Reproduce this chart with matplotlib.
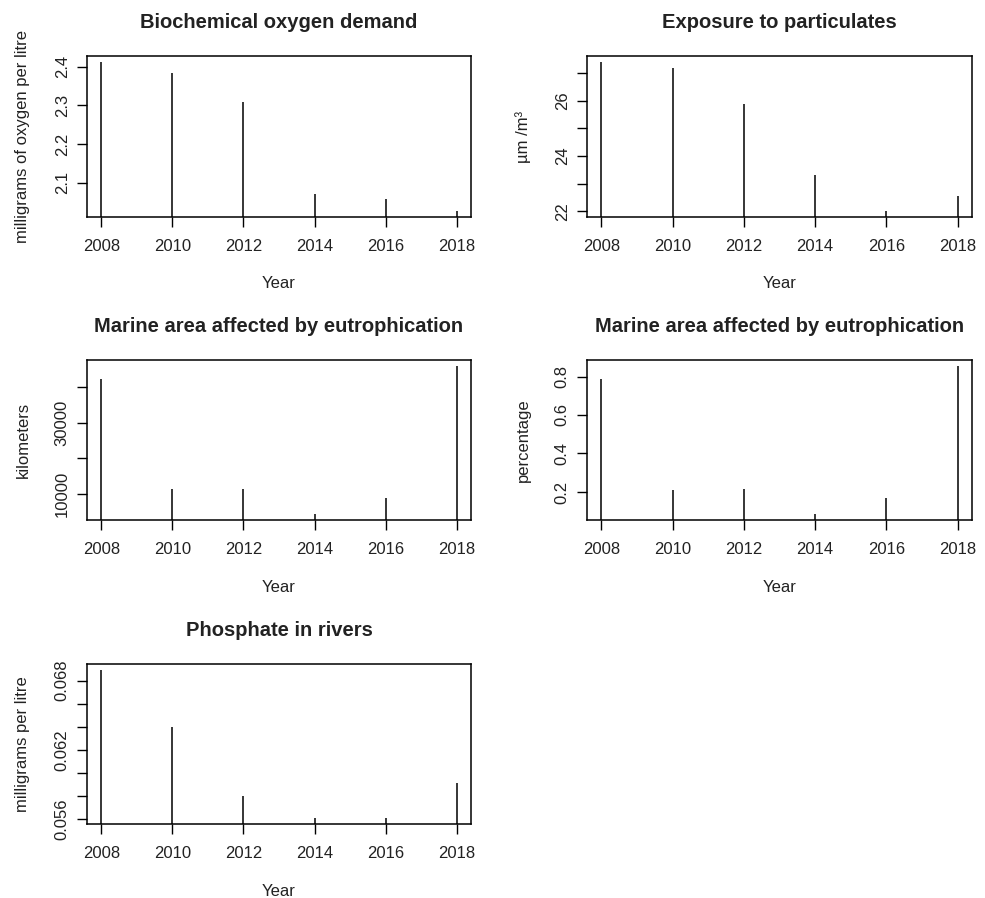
from matplotlib import pyplot as plt
import numpy as np

plt.rcParams['font.family'] = ['Liberation Sans', 'DejaVu Sans']

years = [2008, 2010, 2012, 2014, 2016, 2018]

# values
bod = [2.412, 2.383, 2.309, 2.070, 2.058, 2.027]
particulates = [27.41, 27.20, 25.90, 23.31, 22.01, 22.54]
marine_km = [42200, 11400, 11450, 4500, 8880, 45800]
marine_pct = [0.788, 0.212, 0.213, 0.085, 0.166, 0.855]
phosphate = [0.06893, 0.06402, 0.05803, 0.05608, 0.05608, 0.05908]

xticks = [2008, 2010, 2012, 2014, 2016, 2018]

panels = [
    # title, ylabel, values, y ticks, labelled y ticks
    ('Biochemical oxygen demand', 'milligrams of oxygen per litre', bod,
     [2.1, 2.2, 2.3, 2.4], ['2.1', '2.2', '2.3', '2.4']),
    ('Exposure to particulates', 'µm /m³', particulates,
     [22, 23, 24, 25, 26, 27], ['22', '', '24', '', '26', '']),
    ('Marine area affected by eutrophication', 'kilometers', marine_km,
     [10000, 20000, 30000, 40000], ['10000', '', '30000', '']),
    ('Marine area affected by eutrophication', 'percentage', marine_pct,
     [0.2, 0.4, 0.6, 0.8], ['0.2', '0.4', '0.6', '0.8']),
    ('Phosphate in rivers', 'milligrams per litre', phosphate,
     [0.056, 0.058, 0.060, 0.062, 0.064, 0.066, 0.068],
     ['0.056', '', '', '0.062', '', '', '0.068']),
]

W, H = 985, 898
# axes boxes in pixels: left, top, width, height
boxes = [
    (87, 56, 384, 161),
    (587, 56, 385, 161),
    (87, 360, 384, 160),
    (587, 360, 385, 160),
    (87, 664, 384, 160),
]

fig = plt.figure(figsize=(W / 100, H / 100), dpi=100)
txt = '#222222'

for (title, ylab, vals, yt, ytl), (l, t, w, h) in zip(panels, boxes):
    ax = fig.add_axes([l / W, 1 - (t + h) / H, w / W, h / H])
    # R type='h' style: vertical line from 0 up to each value
    ax.vlines(years, 0, vals, color='black', linewidth=1.1)
    lo, hi = min(vals), max(vals)
    r = hi - lo
    ax.set_ylim(lo - 0.04 * r, hi + 0.04 * r)
    ax.set_xlim(2008 - 0.4, 2018 + 0.4)
    ax.set_xticks(xticks)
    ax.set_yticks(yt)
    ax.set_yticklabels(ytl)
    for lab in ax.get_yticklabels():
        lab.set_rotation(90)
        lab.set_va('center')
        lab.set_ha('right')
    ax.tick_params(axis='both', direction='out', length=7, width=1.0,
                   labelsize=12, labelcolor=txt, color='black')
    ax.tick_params(axis='x', pad=9)
    ax.tick_params(axis='y', pad=5.5)
    for s in ax.spines.values():
        s.set_linewidth(1.1)
    ax.set_title(title, fontsize=14.5, fontweight='bold', color=txt, pad=20)
    ax.set_xlabel('Year', fontsize=12, color=txt, va='center')
    ax.xaxis.set_label_coords(0.5, -67 / h)
    ax.set_ylabel(ylab, fontsize=12, color=txt, va='center')
    ax.yaxis.set_label_coords(-64 / w, 0.5)

fig.savefig('out.png', dpi=100)
